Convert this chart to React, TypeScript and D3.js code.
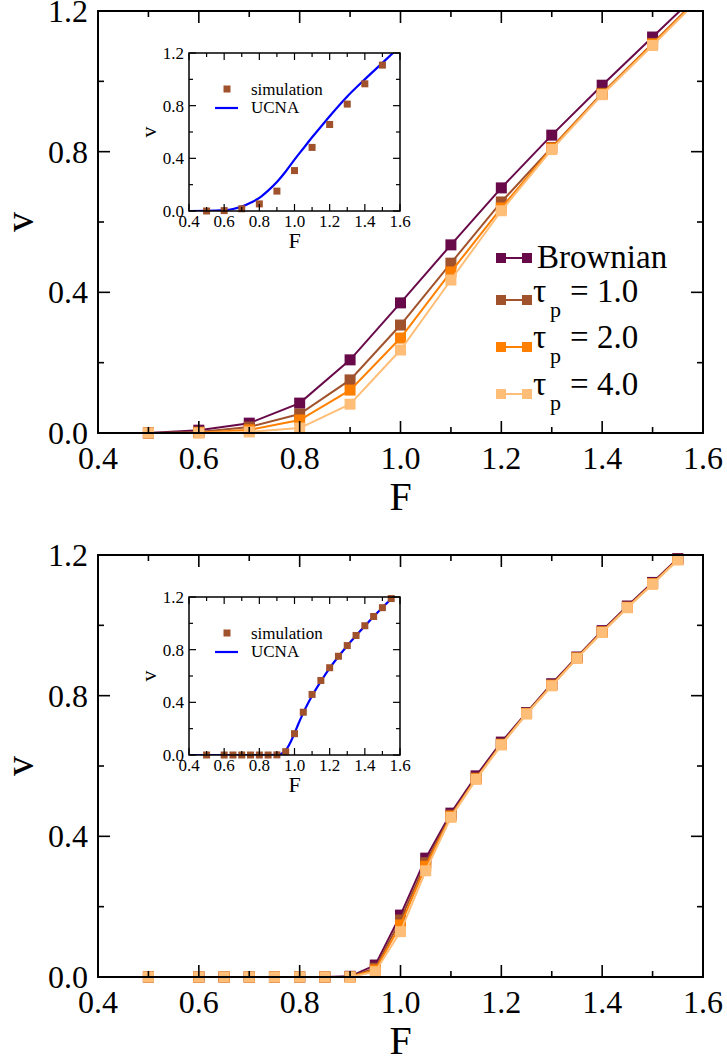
import React from 'react';
import * as d3 from 'd3';

// top panel: F step 0.1
const fTop = [0.5, 0.6, 0.7, 0.8, 0.9, 1.0, 1.1, 1.2, 1.3, 1.4, 1.5, 1.6];
const brownTop = [0.0, 0.008, 0.028, 0.085, 0.208, 0.37, 0.535, 0.697, 0.847, 0.989, 1.126, 1.263];
const tau1Top = [0.0, 0.003, 0.017, 0.054, 0.151, 0.307, 0.483, 0.657, 0.812, 0.966, 1.108, 1.25];
const tau2Top = [0.0, 0.001, 0.009, 0.037, 0.122, 0.27, 0.458, 0.64, 0.81, 0.964, 1.106, 1.248];
const tau4Top = [0.0, 0.0, 0.003, 0.014, 0.082, 0.236, 0.435, 0.632, 0.806, 0.962, 1.102, 1.245];

// bottom panel: F step 0.05
const fBot = [0.5, 0.6, 0.65, 0.7, 0.75, 0.8, 0.85, 0.9, 0.95, 1.0, 1.05, 1.1, 1.15, 1.2, 1.25, 1.3, 1.35, 1.4, 1.45, 1.5, 1.55];
const brownBot = [0, 0, 0, 0, 0, 0, 0, 0.002, 0.034, 0.176, 0.338, 0.466, 0.572, 0.668, 0.752, 0.834, 0.91, 0.985, 1.055, 1.122, 1.19];
const tau1Bot = [0, 0, 0, 0, 0, 0, 0, 0.001, 0.025, 0.162, 0.325, 0.46, 0.566, 0.663, 0.75, 0.831, 0.908, 0.982, 1.052, 1.119, 1.188];
const tau2Bot = [0, 0, 0, 0, 0, 0, 0, 0, 0.02, 0.148, 0.315, 0.457, 0.564, 0.661, 0.749, 0.829, 0.907, 0.981, 1.051, 1.118, 1.187];
const tau4Bot = [0, 0, 0, 0, 0, 0, 0, 0, 0.015, 0.129, 0.302, 0.454, 0.562, 0.66, 0.748, 0.828, 0.906, 0.98, 1.05, 1.117, 1.186];

// UCNA curves for the insets
const ucnaTopF = [0.4, 0.5, 0.6, 0.65, 0.7, 0.75, 0.8, 0.85, 0.9, 0.95, 1.0, 1.05, 1.1, 1.15, 1.2, 1.3, 1.4, 1.5, 1.6];
const ucnaTopV = [0, 0.0005, 0.006, 0.015, 0.033, 0.062, 0.1, 0.155, 0.22, 0.3, 0.39, 0.475, 0.56, 0.64, 0.72, 0.87, 1.0, 1.125, 1.25];
const ucnaBotF = [0.4, 0.85, 0.9, 0.92, 0.94, 0.96, 0.98, 1.0, 1.02, 1.05, 1.08, 1.1, 1.15, 1.2, 1.3, 1.4, 1.5, 1.6];
const ucnaBotV = [0, 0, 0.001, 0.006, 0.022, 0.055, 0.105, 0.165, 0.23, 0.32, 0.4, 0.45, 0.56, 0.66, 0.83, 0.98, 1.12, 1.25];

const xMajor = [0.4, 0.6, 0.8, 1.0, 1.2, 1.4, 1.6];
const xMinor = [0.5, 0.7, 0.9, 1.1, 1.3, 1.5];
const yMajor = [0.0, 0.4, 0.8, 1.2];
const yMinor = [0.2, 0.6, 1.0];

const seriesNames = ['Brownian', '1.0', '2.0', '4.0'];
const colors = ['#680a4a', '#a0522d', '#ff8000', '#ffbe78'];
const simColor = '#a0522d';
const ucnaColor = '#0000ff';

const FONT = "'Liberation Serif', 'Times New Roman', Times, serif";
const fmt = d3.format('.1f');

type Box = { l: number; r: number; t: number; b: number };

function Frame({ box, x, y, major, minor, lw, fs, labelDy, xLabelDy, yLabelDx }: any) {
  const els: any[] = [];
  xMajor.forEach((v, i) => {
    const px = x(v);
    els.push(<line key={'xb' + i} x1={px} x2={px} y1={box.b} y2={box.b - major} />);
    els.push(<line key={'xt' + i} x1={px} x2={px} y1={box.t} y2={box.t + major} />);
  });
  xMinor.forEach((v, i) => {
    const px = x(v);
    els.push(<line key={'xbm' + i} x1={px} x2={px} y1={box.b} y2={box.b - minor} />);
    els.push(<line key={'xtm' + i} x1={px} x2={px} y1={box.t} y2={box.t + minor} />);
  });
  yMajor.forEach((v, i) => {
    const py = y(v);
    els.push(<line key={'yl' + i} x1={box.l} x2={box.l + major} y1={py} y2={py} />);
    els.push(<line key={'yr' + i} x1={box.r} x2={box.r - major} y1={py} y2={py} />);
  });
  yMinor.forEach((v, i) => {
    const py = y(v);
    els.push(<line key={'ylm' + i} x1={box.l} x2={box.l + minor} y1={py} y2={py} />);
    els.push(<line key={'yrm' + i} x1={box.r} x2={box.r - minor} y1={py} y2={py} />);
  });
  return (
    <g>
      <g stroke="#000" strokeWidth={lw * 0.8}>{els}</g>
      <rect x={box.l} y={box.t} width={box.r - box.l} height={box.b - box.t} fill="none" stroke="#000" strokeWidth={lw} />
      <g style={{ fontFamily: FONT }} fontSize={fs} fill="#000">
        {xMajor.map((v, i) => (
          <text key={'xl' + i} x={x(v)} y={box.b + xLabelDy} textAnchor="middle">{fmt(v)}</text>
        ))}
        {yMajor.map((v, i) => (
          <text key={'yl' + i} x={box.l - yLabelDx} y={y(v) + labelDy} textAnchor="end">{fmt(v)}</text>
        ))}
      </g>
    </g>
  );
}

function Panel({ off, f, series, ucnaF, ucnaV, legend, id }: any) {
  const main: Box = { l: 98, r: 703, t: 11 + off, b: 433 + off };
  const ins: Box = { l: 189, r: 400, t: 53 + off, b: 211 + off };
  const x = d3.scaleLinear().domain([0.4, 1.6]).range([main.l, main.r]);
  const y = d3.scaleLinear().domain([0, 1.2]).range([main.b, main.t]);
  const xi = d3.scaleLinear().domain([0.4, 1.6]).range([ins.l, ins.r]);
  const yi = d3.scaleLinear().domain([0, 1.2]).range([ins.b, ins.t]);

  const line = d3.line<number>().x((d, i) => x(f[i])).y((d) => y(d));
  const ucnaLine = d3.line<number>().x((d, i) => xi(ucnaF[i])).y((d) => yi(d)).curve(d3.curveMonotoneX);
  const ms = 11;
  const sim = series[1];

  return (
    <g style={{ fontFamily: FONT }}>
      <defs>
        <clipPath id={'clip' + id}>
          <rect x={main.l} y={main.t} width={main.r - main.l} height={main.b - main.t} />
        </clipPath>
        <clipPath id={'clipi' + id}>
          <rect x={ins.l} y={ins.t} width={ins.r - ins.l} height={ins.b - ins.t} />
        </clipPath>
      </defs>
      {series.map((vals: number[], s: number) => (
        <g key={s}>
          <path d={line(vals) || ''} fill="none" stroke={colors[s]} strokeWidth={2} clipPath={`url(#clip${id})`} />
          {vals.map((v, i) =>
            v <= 1.2 ? (
              <rect key={i} x={x(f[i]) - ms / 2} y={y(v) - ms / 2} width={ms} height={ms} fill={colors[s]} />
            ) : null
          )}
        </g>
      ))}
      <Frame box={main} x={x} y={y} major={12} minor={6} lw={2} fs={32} labelDy={11} xLabelDy={36} yLabelDx={10} />
      <text x={(main.l + main.r) / 2} y={main.b + 77} textAnchor="middle" fontSize={40}>F</text>
      <text transform={`translate(33,${(main.t + main.b) / 2}) rotate(-90)`} textAnchor="middle" fontSize={40}>v</text>

      {/* inset */}
      <rect x={ins.l} y={ins.t} width={ins.r - ins.l} height={ins.b - ins.t} fill="#fff" />
      <path d={ucnaLine(ucnaV) || ''} fill="none" stroke={ucnaColor} strokeWidth={2.2} clipPath={`url(#clipi${id})`} />
      {sim.map((v: number, i: number) =>
        v <= 1.2 ? <rect key={i} x={xi(f[i]) - 3.5} y={yi(v) - 3.5} width={7} height={7} fill={simColor} /> : null
      )}
      <Frame box={ins} x={xi} y={yi} major={7} minor={4} lw={1.5} fs={17} labelDy={6} xLabelDy={16} yLabelDx={5} />
      <text x={(ins.l + ins.r) / 2} y={ins.b + 37} textAnchor="middle" fontSize={22}>F</text>
      <text transform={`translate(156,${(ins.t + ins.b) / 2}) rotate(-90)`} textAnchor="middle" fontSize={22}>v</text>
      <g fontSize={17}>
        <rect x={223.5} y={85.5 + off} width={7} height={7} fill={simColor} />
        <text x={251} y={95 + off}>simulation</text>
        <line x1={215} x2={238} y1={108 + off} y2={108 + off} stroke={ucnaColor} strokeWidth={2.2} />
        <text x={251} y={113 + off}>UCNA</text>
      </g>

      {legend && (
        <g>
          {seriesNames.map((name, s) => {
            const my = [258, 300, 347, 394][s] + off;
            const base = [268, 302, 348, 395][s] + off;
            return (
              <g key={name}>
                <line x1={501} x2={527} y1={my} y2={my} stroke={colors[s]} strokeWidth={2} />
                <rect x={496} y={my - 5} width={10} height={10} fill={colors[s]} />
                <rect x={522} y={my - 5} width={10} height={10} fill={colors[s]} />
                {s === 0 ? (
                  <text x={537} y={base} fontSize={33}>{name}</text>
                ) : (
                  <g>
                    <text x={533} y={base} fontSize={33}>τ</text>
                    <text x={550} y={base + 15} fontSize={22}>p</text>
                    <text x={570} y={base} fontSize={33}>= {name}</text>
                  </g>
                )}
              </g>
            );
          })}
        </g>
      )}
    </g>
  );
}

export default function App() {
  return (
    <div style={{ position: 'absolute', left: 0, top: 0 }}>
      <svg width={727} height={1059} style={{ display: 'block', background: '#fff' }}>
        <Panel id="a" off={0} f={fTop} series={[brownTop, tau1Top, tau2Top, tau4Top]} ucnaF={ucnaTopF} ucnaV={ucnaTopV} legend={true} />
        <Panel id="b" off={544} f={fBot} series={[brownBot, tau1Bot, tau2Bot, tau4Bot]} ucnaF={ucnaBotF} ucnaV={ucnaBotV} legend={false} />
      </svg>
    </div>
  );
}
